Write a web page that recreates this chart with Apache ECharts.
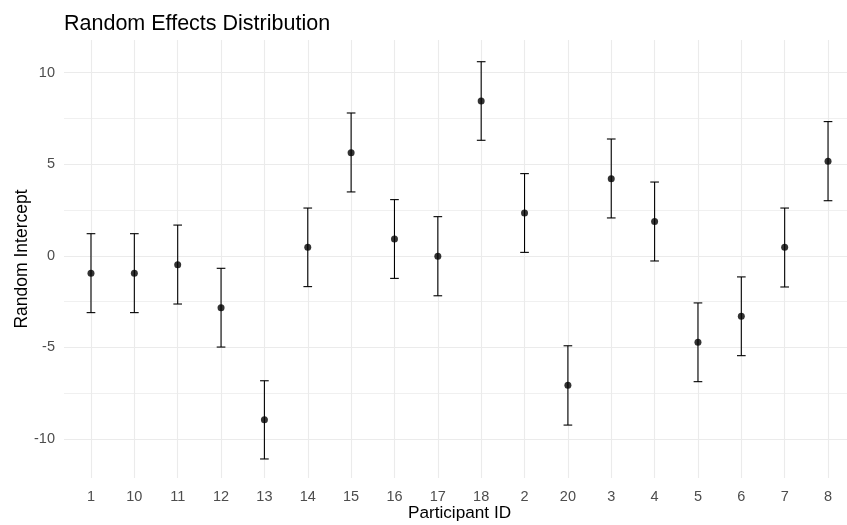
<!DOCTYPE html>
<html>
<head>
<meta charset="utf-8">
<title>Random Effects Distribution</title>
<script src="https://cdn.jsdelivr.net/npm/echarts@6/dist/echarts.min.js"></script>
<style>
  html, body { margin: 0; padding: 0; background: #ffffff; }
  #chart { width: 847px; height: 525px; }
</style>
</head>
<body>
<div id="chart"></div>
<script>
// Participant IDs (sorted as strings, like the original factor order)
const participantIds = ['1', '10', '11', '12', '13', '14', '15', '16', '17', '18', '2', '20', '3', '4', '5', '6', '7', '8'];

// Random intercept estimates
const estimates = [-0.95, -0.95, -0.48, -2.83, -8.95, 0.47, 5.63, 0.92, -0.02, 8.45, 2.34, -7.07, 4.21, 1.87, -4.72, -3.30, 0.47, 5.16];

// Error bar bounds
const lowerBounds = [-3.10, -3.10, -2.63, -4.98, -11.09, -1.68, 3.49, -1.23, -2.18, 6.31, 0.19, -9.24, 2.07, -0.28, -6.87, -5.45, -1.70, 3.01];
const upperBounds = [1.21, 1.21, 1.68, -0.68, -6.82, 2.61, 7.80, 3.07, 2.14, 10.60, 4.49, -4.91, 6.38, 4.03, -2.57, -1.15, 2.61, 7.33];

// Y tick labels (major every 5, minor lines in between)
const yTicks = [-10, -5, 0, 5, 10];

const GRID_COLOR = '#ebebeb';
const MINOR_COLOR = '#f0f0f0';
const LABEL_COLOR = '#4d4d4d';
const FONT = '"Liberation Sans", Arial, sans-serif';

// pixel layout of the panel
const PX_PER_UNIT = 18.315;
const Y10 = 72.7;           // pixel row of y = 10
const YM10 = 439;           // pixel row of y = -10
const PANEL_TOP = 40;
const PANEL_BOTTOM = 478;
const BAND_LEFT = 69.3;
const BAND_RIGHT = -2.7;

const chart = echarts.init(document.getElementById('chart'), null, { renderer: 'canvas' });

const errorBarData = participantIds.map((id, i) => [i, lowerBounds[i], upperBounds[i]]);

function renderErrorBar(params, api) {
  const idx = api.value(0);
  const low = api.coord([idx, api.value(1)]);
  const high = api.coord([idx, api.value(2)]);
  const halfCap = api.size([1, 0])[0] * 0.1;
  const style = { stroke: '#000000', lineWidth: 1.1 };
  return {
    type: 'group',
    children: [
      { type: 'line', shape: { x1: low[0], y1: low[1], x2: high[0], y2: high[1] }, style },
      { type: 'line', shape: { x1: high[0] - halfCap, y1: high[1], x2: high[0] + halfCap, y2: high[1] }, style },
      { type: 'line', shape: { x1: low[0] - halfCap, y1: low[1], x2: low[0] + halfCap, y2: low[1] }, style },
    ],
  };
}

// data grid uses -12.5..12.5 so that -10 / 10 land on the same rows as the labelled grid
const dataTop = Y10 - 2.5 * PX_PER_UNIT;
const dataBottom = 525 - (YM10 + 2.5 * PX_PER_UNIT);

const option = {
  backgroundColor: '#ffffff',
  animation: false,
  title: {
    text: 'Random Effects Distribution',
    left: 64,
    top: 13,
    padding: 0,
    textStyle: { fontFamily: FONT, fontSize: 21.5, fontWeight: 'normal', color: '#000000' },
  },
  graphic: [{
    type: 'text',
    x: 22,
    y: 259,
    rotation: Math.PI / 2,
    style: {
      text: 'Random Intercept',
      font: '17.5px ' + FONT,
      fill: '#000000',
      align: 'center',
      verticalAlign: 'middle',
    },
  }],
  grid: [
    // horizontal grid lines + y labels
    { left: 64, right: 0, top: Y10, bottom: 525 - YM10, outerBoundsMode: 'none' },
    // vertical grid lines + x labels
    { left: BAND_LEFT, right: BAND_RIGHT, top: PANEL_TOP, bottom: 525 - PANEL_BOTTOM, outerBoundsMode: 'none' },
    // data marks
    { left: BAND_LEFT, right: BAND_RIGHT, top: dataTop, bottom: dataBottom, outerBoundsMode: 'none' },
  ],
  xAxis: [
    { type: 'value', gridIndex: 0, show: false, min: 0, max: 1 },
    {
      type: 'category',
      gridIndex: 1,
      data: participantIds,
      boundaryGap: true,
      name: 'Participant ID',
      nameLocation: 'middle',
      nameGap: 27,
      nameMoveOverlap: false,
      nameTextStyle: { fontFamily: FONT, fontSize: 17.2, color: '#000000' },
      axisLine: { show: false },
      axisTick: { show: false },
      axisLabel: { fontFamily: FONT, fontSize: 14.5, color: LABEL_COLOR, margin: 11, interval: 0 },
      splitLine: { show: true, alignWithLabel: true, lineStyle: { color: GRID_COLOR, width: 1.1 } },
    },
    {
      type: 'category',
      gridIndex: 2,
      data: participantIds,
      boundaryGap: true,
      show: false,
    },
  ],
  yAxis: [
    {
      type: 'value',
      gridIndex: 0,
      min: -10,
      max: 10,
      interval: 2.5,
      axisLine: { show: false },
      axisTick: { show: false },
      axisLabel: {
        fontFamily: FONT,
        fontSize: 14.5,
        color: LABEL_COLOR,
        margin: 9,
        formatter: v => (yTicks.includes(v) ? String(v) : ''),
      },
      splitLine: { show: true, lineStyle: { color: [GRID_COLOR, MINOR_COLOR], width: 1.1 } },
    },
    { type: 'value', gridIndex: 1, min: 0, max: 1, show: false, splitLine: { show: false } },
    {
      type: 'value',
      gridIndex: 2,
      min: -12.5,
      max: 12.5,
      interval: 2.5,
      show: false,
      splitLine: { show: false },
    },
  ],
  series: [
    {
      type: 'custom',
      xAxisIndex: 2,
      yAxisIndex: 2,
      data: errorBarData,
      encode: { x: 0, y: [1, 2] },
      renderItem: renderErrorBar,
      clip: false,
      silent: true,
      z: 2,
    },
    {
      type: 'scatter',
      xAxisIndex: 2,
      yAxisIndex: 2,
      data: estimates,
      symbol: 'circle',
      symbolSize: 7,
      itemStyle: { color: '#000000' },
      clip: false,
      silent: true,
      z: 3,
    },
  ],
};

chart.setOption(option);
</script>
</body>
</html>
